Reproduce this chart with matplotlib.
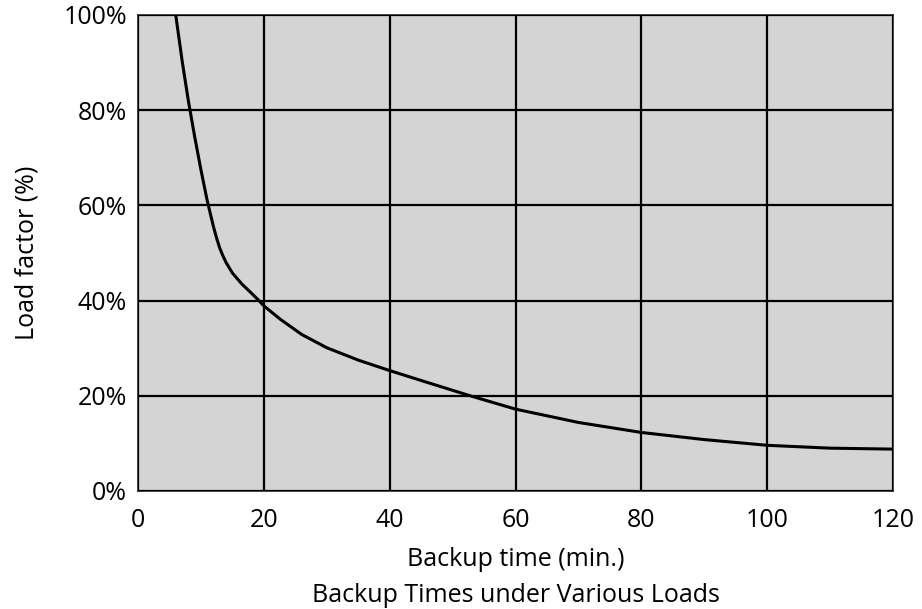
import numpy as np
import matplotlib
matplotlib.use("Agg")
import matplotlib.pyplot as plt
from matplotlib.ticker import FuncFormatter

# valori
backup_min = [6.0, 7.0, 8.0, 9.0, 10.0, 11.0, 12.0, 12.5, 13.0, 13.5, 14.0, 15.0,
              16.5, 18.0, 19.0, 20.0, 22.6, 26.0, 30.0, 35.0, 40, 46, 52.8,
              60, 70, 80, 90, 100, 110, 120]
load_pct = [100, 90.5, 82, 74.5, 67.5, 61, 55.5, 53.1, 51, 49.4, 48, 45.8,
            43.5, 41.6, 40.3, 38.9, 36.1, 32.9, 30.1, 27.5, 25.3, 22.8, 20.0,
            17.2, 14.4, 12.3, 10.8, 9.6, 9.0, 8.8]

x_ticks = [0, 20, 40, 60, 80, 100, 120]
y_ticks = [0, 20, 40, 60, 80, 100]

plt.rcParams['font.family'] = ['Open Sans', 'DejaVu Sans']
FS = 18

fig = plt.figure(figsize=(9.22, 6.09), dpi=100)
ax = fig.add_axes([138/922, 1 - 491/609, (893-138)/922, (491-15)/609])
ax.set_facecolor('#d4d4d4')

ax.plot(backup_min, load_pct, color='black', lw=2.2, solid_joinstyle='round')

ax.set_xlim(0, 120)
ax.set_ylim(0, 100)
ax.set_xticks(x_ticks)
ax.set_yticks(y_ticks)
ax.yaxis.set_major_formatter(FuncFormatter(lambda v, p: f"{int(v)}%"))
ax.tick_params(axis='x', length=0, labelsize=FS, pad=12)
ax.tick_params(axis='y', length=0, labelsize=FS, pad=8)
ax.grid(True, color='black', lw=1.6)
ax.set_axisbelow(False)
for s in ax.spines.values():
    s.set_color('#222222')
    s.set_linewidth(1.2)

ax.set_xlabel("Backup time (min.)", fontsize=FS, va='center')
ax.xaxis.set_label_coords(0.5, (491 - 560) / 476)
ax.set_ylabel("Load factor (%)", fontsize=FS, va='center')
ax.yaxis.set_label_coords(-(138 - 27) / 755, 0.5)
fig.text((138+893)/2/922, 1 - 596/609, "Backup Times under Various Loads",
         ha='center', va='center', fontsize=FS)

fig.savefig("out.png", dpi=100)
